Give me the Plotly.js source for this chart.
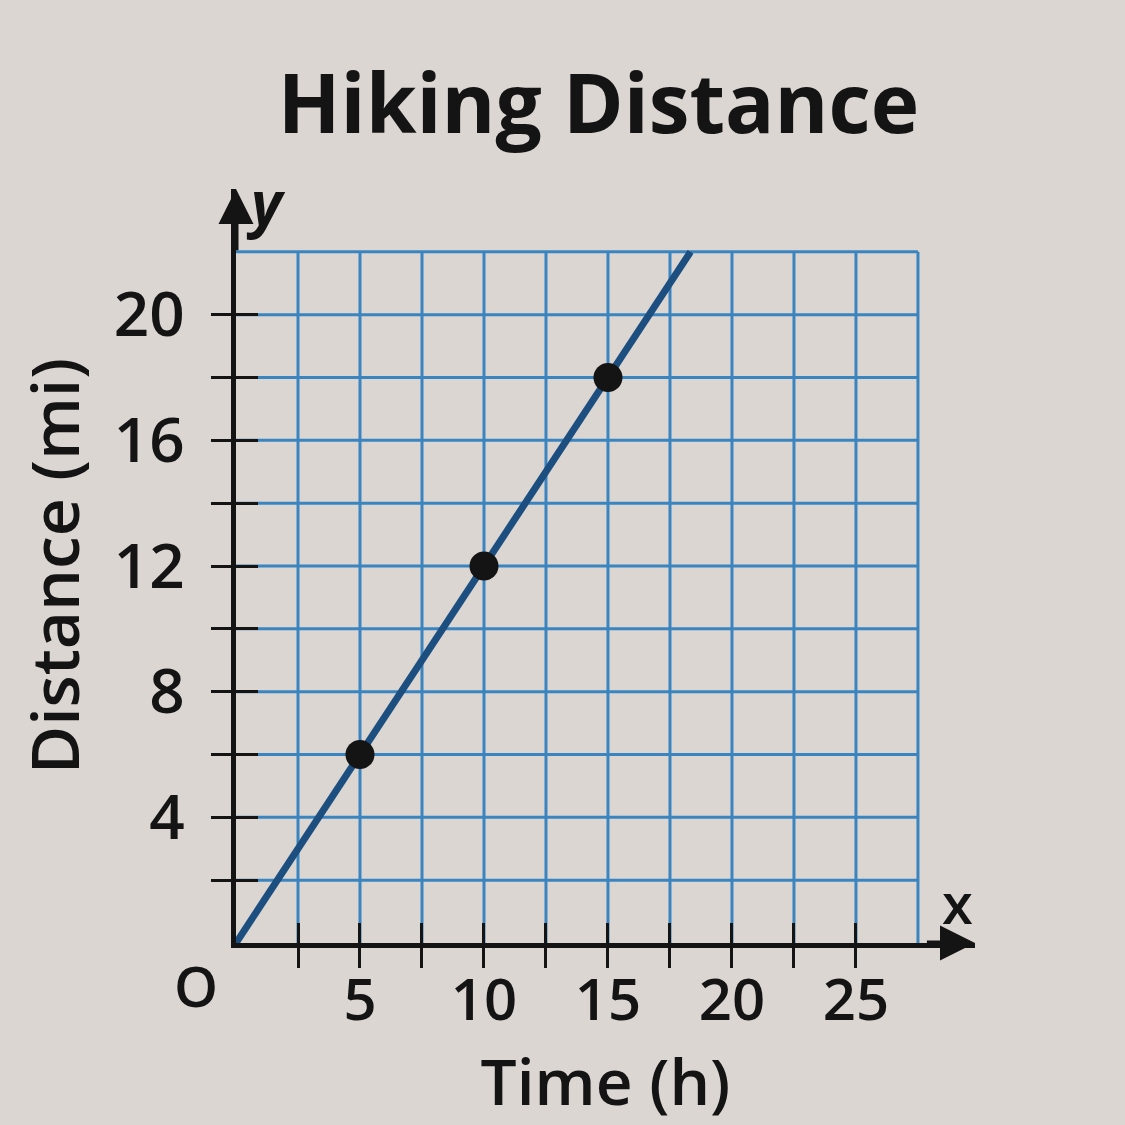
<!DOCTYPE html>
<html>
<head>
<meta charset="utf-8">
<script src="https://cdn.plot.ly/plotly-3.0.1.min.js"></script>
<style>html,body{margin:0;padding:0;background:#dbd6d2;}</style>
</head>
<body>
<div id="chart" style="width:1125px;height:1125px;"></div>
<script>
// ---- data ----
const pointX = [5, 10, 15];          // Time (h)
const pointY = [6, 12, 18];          // Distance (mi)
const lineX = [0, 18.33];            // line through origin, to top of grid
const lineY = [0, 22];
const xTickVals = [2.5, 5, 7.5, 10, 12.5, 15, 17.5, 20, 22.5, 25];
const xTickText = ['', '5', '', '10', '', '15', '', '20', '', '25'];
const yTickVals = [2, 4, 6, 8, 10, 12, 14, 16, 18, 20];
const yTickText = ['', '4', '', '8', '', '12', '', '16', '', '20'];
const gridX = [2.5, 5, 7.5, 10, 12.5, 15, 17.5, 20, 22.5, 25, 27.5];
const gridY = [2, 4, 6, 8, 10, 12, 14, 16, 18, 20, 22];
const gridXMax = 27.5, gridYMax = 22;
const xMax = 29.8, yMax = 24;

const ink = '#141414';
const gridColor = '#3a84c0';
const bg = '#dbd6d2';
const fam = '"Open Sans", "Noto Sans", sans-serif';

const shapes = [];
gridX.forEach(v => shapes.push({type:'line', xref:'x', yref:'y', x0:v, x1:v, y0:0, y1:gridYMax, layer:'below', line:{color:gridColor, width:3}}));
gridY.forEach(v => shapes.push({type:'line', xref:'x', yref:'y', x0:0, x1:gridXMax, y0:v, y1:v, layer:'below', line:{color:gridColor, width:3}}));

const traces = [
  {x: lineX, y: lineY, type:'scatter', mode:'lines', xaxis:'x', yaxis:'y',
   line:{color:'#1c4f80', width:7}, hoverinfo:'skip', showlegend:false},
  {x: pointX, y: pointY, type:'scatter', mode:'markers', xaxis:'x2', yaxis:'y2',
   marker:{color:ink, size:29}, showlegend:false}
];

const tickFontX = {family: fam, size: 58, color: ink, weight: 600};
const tickFontY = {family: fam, size: 62, color: ink, weight: 600};

const layout = {
  width: 1125, height: 1125,
  paper_bgcolor: bg, plot_bgcolor: bg,
  margin: {l: 236, r: 150, t: 189, b: 182},
  showlegend: false,
  title: {text: 'Hiking Distance', x: 0.532, xanchor: 'center', y: 0.907, yanchor: 'middle',
          font: {family: fam, size: 82, color: ink, weight: 700}},
  xaxis: {range: [0, xMax], showgrid: false, zeroline: false, showline: true, linecolor: ink, linewidth: 5,
          ticks: 'outside', ticklen: 20, tickwidth: 3, tickcolor: ink,
          tickmode: 'array', tickvals: xTickVals, ticktext: xTickText, tickfont: tickFontX,
          ticklabelstandoff: -18,
          title: {text: 'Time (h)', font: {family: fam, size: 64, color: ink, weight: 600}, standoff: 16},
          fixedrange: true},
  yaxis: {range: [0, yMax], showgrid: false, zeroline: false, showline: true, linecolor: ink, linewidth: 5,
          ticks: 'outside', ticklen: 20, tickwidth: 3, tickcolor: ink,
          tickmode: 'array', tickvals: yTickVals, ticktext: yTickText, tickfont: tickFontY,
          ticklabelstandoff: 14,
          title: {text: 'Distance (mi)', font: {family: fam, size: 66, color: ink, weight: 600}, standoff: 14},
          fixedrange: true},
  xaxis2: {overlaying: 'x', anchor: 'y2', range: [0, xMax], showgrid: false, zeroline: false, showline: false,
           ticks: 'inside', ticklen: 20, tickwidth: 3, tickcolor: ink,
           tickmode: 'array', tickvals: xTickVals, showticklabels: false, fixedrange: true},
  yaxis2: {overlaying: 'y', anchor: 'x2', range: [0, yMax], showgrid: false, zeroline: false, showline: false,
           ticks: 'inside', ticklen: 22, tickwidth: 3, tickcolor: ink,
           tickmode: 'array', tickvals: yTickVals, showticklabels: false, fixedrange: true},
  shapes: shapes,
  annotations: [
    {xref:'x', yref:'y', x: xMax, y: 0, axref:'x', ayref:'y', ax: xMax - 2, ay: 0, text:'',
     showarrow:true, arrowhead:2, arrowsize:1.4, arrowwidth:5, arrowcolor: ink, standoff: 0},
    {xref:'x', yref:'y', x: 0, y: yMax, axref:'x', ayref:'y', ax: 0, ay: yMax - 2, text:'',
     showarrow:true, arrowhead:2, arrowsize:1.4, arrowwidth:5, arrowcolor: ink, standoff: 0},
    {xref:'x', yref:'y', x: 0, y: 0, xshift: -40, yshift: -42, text: 'O', showarrow: false,
     font: {family: fam, size: 56, color: ink, weight: 600}},
    {xref:'x', yref:'y', x: 29.1, y: 1.3, text: 'x', showarrow: false,
     font: {family: fam, size: 56, color: ink, weight: 600}},
    {xref:'x', yref:'y', x: 1.2, y: 23.6, text: '<i>y</i>', showarrow: false,
     font: {family: fam, size: 60, color: ink, weight: 700}}
  ]
};

Plotly.newPlot('chart', traces, layout, {staticPlot: true, displayModeBar: false});
</script>
</body>
</html>
